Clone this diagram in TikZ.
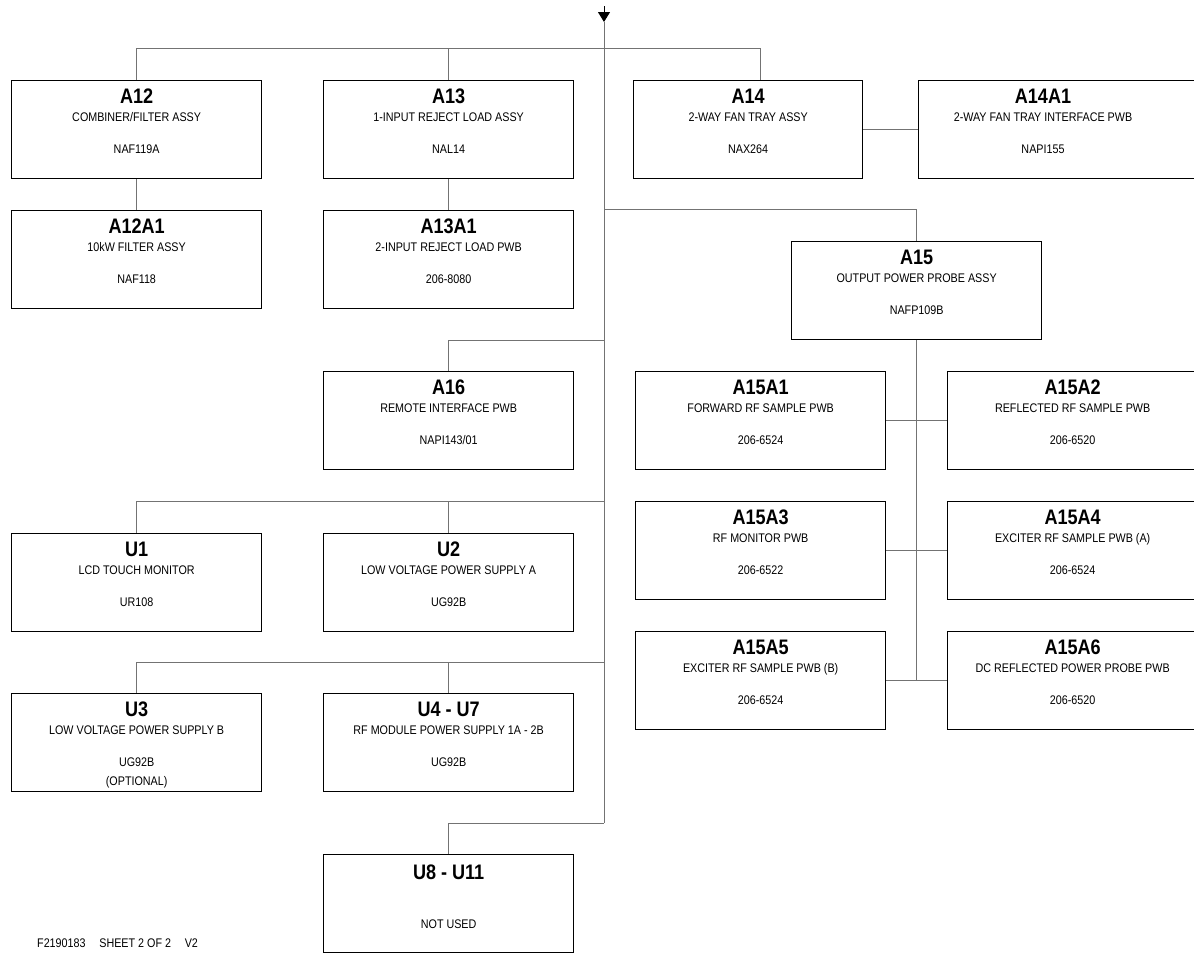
\documentclass[tikz,border=0pt]{standalone}
\usepackage{fontspec}
\setmainfont[FakeStretch=0.86]{Liberation Sans}
\usetikzlibrary{arrows.meta}

\tikzset{
  unitbox/.style={draw=black, line width=1.3pt, minimum width=250pt, minimum height=98pt,
    inner sep=0pt, anchor=north west},
  link/.style={draw=black!55, line width=1pt},
  boxtitle/.style={anchor=base, inner sep=0pt, font=\fontsize{21}{21}\selectfont\bfseries},
  boxtext/.style={anchor=base, inner sep=0pt, font=\fontsize{12.5}{13}\selectfont},
}

% [box options] name, top-left corner, title, description, part number
\newcommand{\unitblock}[6][]{%
  \node[unitbox, #1] (#2) at (#3) {};
  \node[boxtitle] at ([yshift=-23pt]#2.north) {#4};
  \node[boxtext] at ([yshift=-41pt]#2.north) {#5};
  \node[boxtext] at ([yshift=-73pt]#2.north) {#6};
}

\begin{document}
\begin{tikzpicture}[x=1pt, y=-1pt]
  \useasboundingbox (0,0) rectangle (1194,954);
  \clip (0,0) rectangle (1194,954);

  % left column
  \unitblock{a12}{11,80}{A12}{COMBINER/FILTER ASSY}{NAF119A}
  \unitblock{a12a1}{11,210}{A12A1}{10kW FILTER ASSY}{NAF118}
  \unitblock{u1}{11,533}{U1}{LCD TOUCH MONITOR}{UR108}
  \unitblock{u3}{11,693}{U3}{LOW VOLTAGE POWER SUPPLY B}{UG92B}
  \node[boxtext] at ([yshift=-92pt]u3.north) {(OPTIONAL)};

  % second column
  \unitblock{a13}{323,80}{A13}{1-INPUT REJECT LOAD ASSY}{NAL14}
  \unitblock{a13a1}{323,210}{A13A1}{2-INPUT REJECT LOAD PWB}{206-8080}
  \unitblock{a16}{323,371}{A16}{REMOTE INTERFACE PWB}{NAPI143/01}
  \unitblock{u2}{323,533}{U2}{LOW VOLTAGE POWER SUPPLY A}{UG92B}
  \unitblock{u4}{323,693}{U4 - U7}{RF MODULE POWER SUPPLY 1A - 2B}{UG92B}
  \node[unitbox] (u8) at (323,854) {};
  \node[boxtitle] at ([yshift=-25pt]u8.north) {U8 - U11};
  \node[boxtext] at ([yshift=-74pt]u8.north) {NOT USED};

  % right side
  \unitblock[minimum width=229pt]{a14}{633,80}{A14}{2-WAY FAN TRAY ASSY}{NAX264}
  \node[unitbox, minimum width=300pt] (a14a1) at (918,80) {};
  \node[boxtitle] at (1043,103) {A14A1};
  \node[boxtext] at (1043,121) {2-WAY FAN TRAY INTERFACE PWB};
  \node[boxtext] at (1043,153) {NAPI155};
  \unitblock{a15}{791,241}{A15}{OUTPUT POWER PROBE ASSY}{NAFP109B}
  \unitblock{a15a1}{635,371}{A15A1}{FORWARD RF SAMPLE PWB}{206-6524}
  \unitblock{a15a2}{947,371}{A15A2}{REFLECTED RF SAMPLE PWB}{206-6520}
  \unitblock{a15a3}{635,501}{A15A3}{RF MONITOR PWB}{206-6522}
  \unitblock{a15a4}{947,501}{A15A4}{EXCITER RF SAMPLE PWB (A)}{206-6524}
  \unitblock{a15a5}{635,631}{A15A5}{EXCITER RF SAMPLE PWB (B)}{206-6524}
  \unitblock{a15a6}{947,631}{A15A6}{DC REFLECTED POWER PROBE PWB}{206-6520}

  % main feed
  \coordinate (feed) at (604,6);
  \coordinate (tip) at (604,22);
  \coordinate (busend) at (604,823);
  \draw[link] (tip) -- (busend);
  \draw[link, draw=black, -{Triangle[width=12pt, length=10pt]}] (feed) -- (tip);

  % branches off the feed
  \draw[link] (a12.north) |- ([xshift=12pt]a14.north |- 0,48) -- ([xshift=12pt]a14.north);
  \draw[link] (a13.north) -- (a13.north |- 0,48);
  \draw[link] (a12.south) -- (a12a1.north);
  \draw[link] (a13.south) -- (a13a1.north);
  \draw[link] (a14.east |- a14a1.west) -- (a14a1.west);
  \draw[link] (604,209) -| (a15.north);
  \draw[link] (604,340) -| (a16.north);
  \draw[link] (604,501) -| (u1.north);
  \draw[link] (u2.north) -- (u2.north |- 0,501);
  \draw[link] (604,662) -| (u3.north);
  \draw[link] (u4.north) -- (u4.north |- 0,662);
  \draw[link] (busend) -| (u8.north);

  % probe boards
  \draw[link] (a15.south) -- (a15.south |- a15a5.east);
  \draw[link] (a15a1.east) -- (a15a2.west);
  \draw[link] (a15a3.east) -- (a15a4.west);
  \draw[link] (a15a5.east) -- (a15a6.west);

  \node[boxtext, anchor=base west] (sheet) at (37,947) {F2190183\hspace{1.1em}SHEET 2 OF 2\hspace{1.1em}V2};
\end{tikzpicture}
\end{document}
